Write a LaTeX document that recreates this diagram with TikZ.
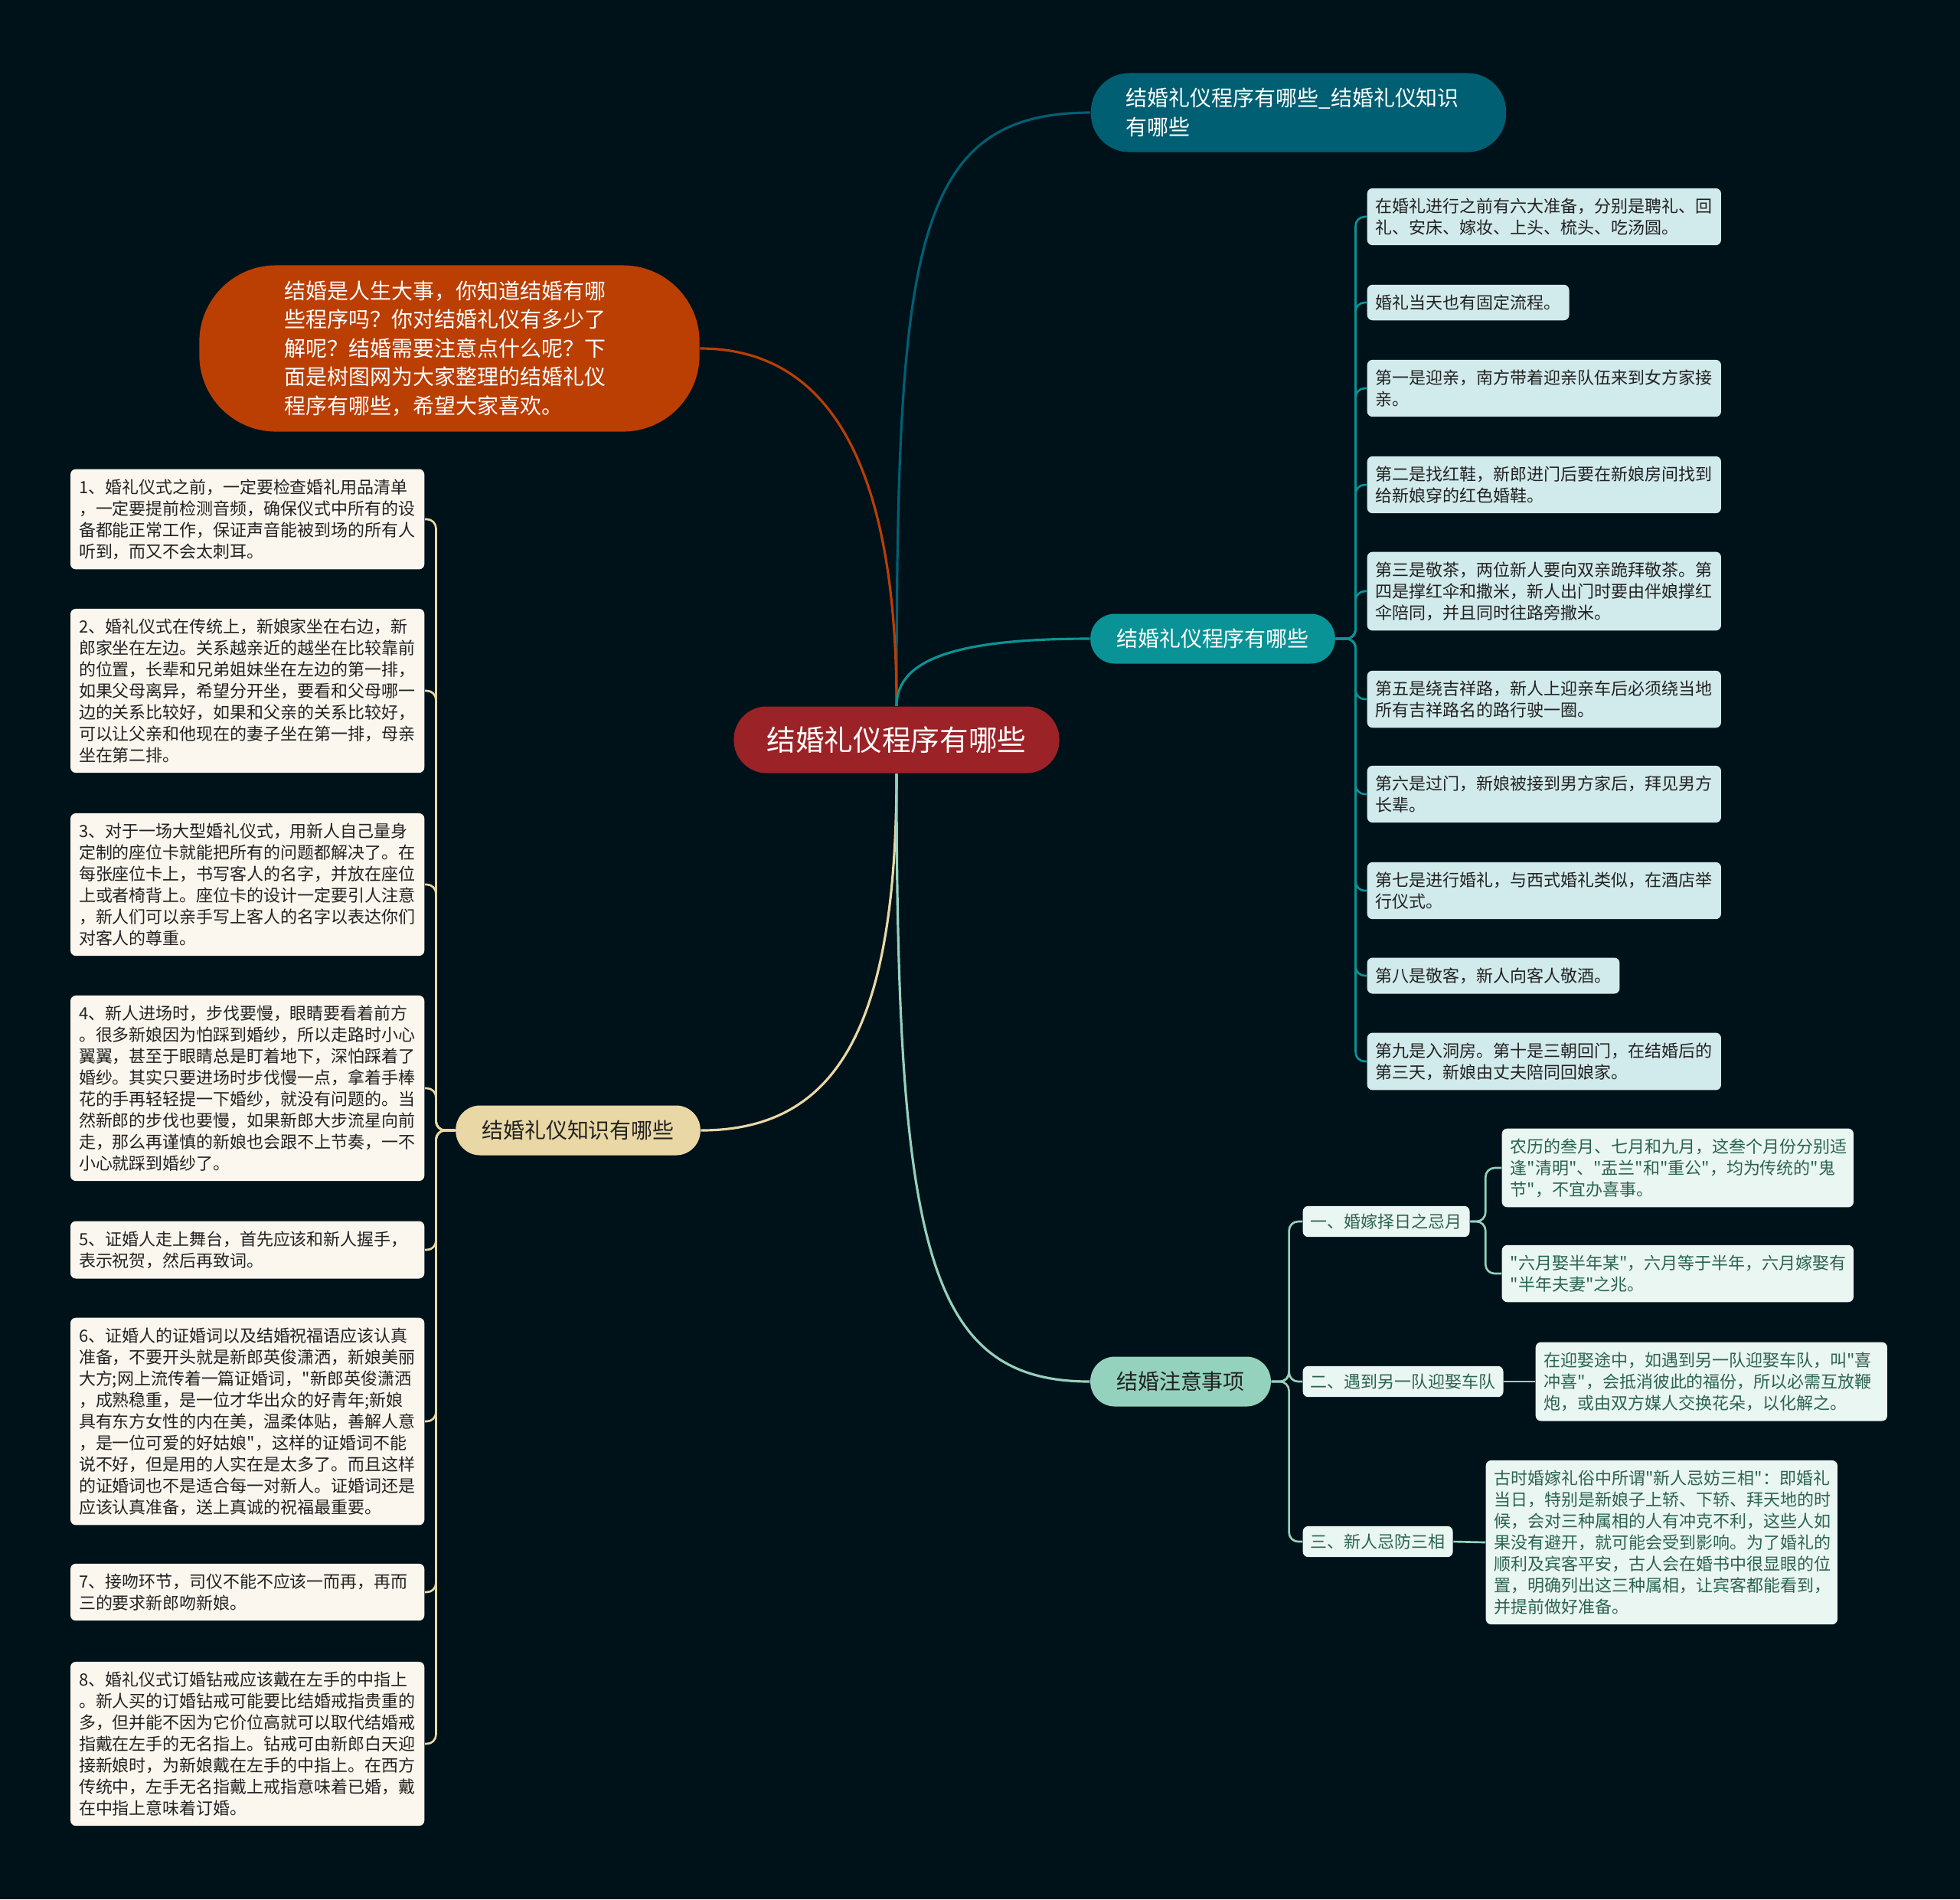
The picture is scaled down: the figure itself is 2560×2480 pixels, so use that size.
\documentclass[tikz,border=0pt]{standalone}
\usepackage{fontspec}
\setmainfont{Noto Sans CJK SC}[Ligatures=TeXOff]
\definecolor{Night}{HTML}{001219}
\definecolor{DeepTeal}{HTML}{005F73}
\definecolor{Teal}{HTML}{0A9396}
\definecolor{Mint}{HTML}{94D2BD}
\definecolor{Sand}{HTML}{E9D8A6}
\definecolor{Rust}{HTML}{BB3E03}
\definecolor{Wine}{HTML}{9B2226}
\definecolor{TealTint}{HTML}{D1EAEB}
\definecolor{SandTint}{HTML}{FBF7EE}
\definecolor{MintTint}{HTML}{EAF6F2}
\definecolor{Ink}{HTML}{222222}
\definecolor{Pine}{HTML}{2B6450}
\newcommand\leafcn{\fontsize{6.25}{7.95}\selectfont}
\newcommand\topiccn{\fontsize{7.95}{10.7}\selectfont}
\newcommand\rootcn{\fontsize{10.7}{13}\selectfont}

\begin{document}
\begin{tikzpicture}[x=0.01cm,y=-0.01cm,
    leaf/.style={align=left,font=\leafcn,text=Ink,inner xsep=0.11cm,inner ysep=0.13cm,rounded corners=0.07cm},
    rleaf/.style={leaf,fill=TealTint,anchor=west},
    lleaf/.style={leaf,fill=SandTint,anchor=east,text width=4.4cm},
    nleaf/.style={leaf,fill=MintTint,text=Pine,anchor=west,text width=4.37cm},
    sub/.style={leaf,fill=MintTint,text=Pine,anchor=west,inner xsep=0.1cm,inner ysep=0.1cm},
    wide/.style={text width=4.4cm},
    topic/.style={font=\topiccn,inner xsep=0.34cm,inner ysep=0pt,minimum height=0.65cm,rounded corners=0.32cm},
    link/.style={line width=0.9pt},
    spine/.style={line width=0.75pt,rounded corners=0.12cm}]
  \fill[Night] (0,0) rectangle (2560,2480);

  \node[fill=Wine,text=white,font=\rootcn,minimum width=4.25cm,minimum height=0.87cm,rounded corners=0.43cm] (root) at (1171,966) {结婚礼仪程序有哪些};
  \node[fill=DeepTeal,text=white,font=\topiccn,align=left,text width=4.5cm,inner xsep=0.46cm,minimum height=1.03cm,rounded corners=0.5cm] (title) at (1696,147) {结婚礼仪程序有哪些\_结婚礼仪知识\\有哪些};
  \node[fill=Rust,text=white,font=\topiccn,align=left,text width=4.3cm,minimum width=6.53cm,minimum height=2.17cm,rounded corners=1cm] (intro) at (587,455) {结婚是人生大事，你知道结婚有哪\\些程序吗？你对结婚礼仪有多少了\\解呢？结婚需要注意点什么呢？下\\面是树图网为大家整理的结婚礼仪\\程序有哪些，希望大家喜欢。};
  \node[topic,fill=Teal,text=white] (steps) at (1584,834) {结婚礼仪程序有哪些};
  \node[topic,fill=Sand,text=Ink] (tips) at (755,1476) {结婚礼仪知识有哪些};
  \node[topic,fill=Mint,text=Ink] (notes) at (1542,1804) {结婚注意事项};

  \node[rleaf,wide] (s1) at (1785,283) {在婚礼进行之前有六大准备，分别是聘礼、回\\礼、安床、嫁妆、上头、梳头、吃汤圆。};
  \node[rleaf] (s2) at (1785,395) {婚礼当天也有固定流程。};
  \node[rleaf,wide] (s3) at (1785,507) {第一是迎亲，南方带着迎亲队伍来到女方家接\\亲。};
  \node[rleaf,wide] (s4) at (1785,633) {第二是找红鞋，新郎进门后要在新娘房间找到\\给新娘穿的红色婚鞋。};
  \node[rleaf,wide] (s5) at (1785,772) {第三是敬茶，两位新人要向双亲跪拜敬茶。第\\四是撑红伞和撒米，新人出门时要由伴娘撑红\\伞陪同，并且同时往路旁撒米。};
  \node[rleaf,wide] (s6) at (1785,913) {第五是绕吉祥路，新人上迎亲车后必须绕当地\\所有吉祥路名的路行驶一圈。};
  \node[rleaf,wide] (s7) at (1785,1037) {第六是过门，新娘被接到男方家后，拜见男方\\长辈。};
  \node[rleaf,wide] (s8) at (1785,1163) {第七是进行婚礼，与西式婚礼类似，在酒店举\\行仪式。};
  \node[rleaf] (s9) at (1785,1274) {第八是敬客，新人向客人敬酒。};
  \node[rleaf,wide] (s10) at (1785,1386) {第九是入洞房。第十是三朝回门，在结婚后的\\第三天，新娘由丈夫陪同回娘家。};

  \node[lleaf] (k1) at (555,678) {1、婚礼仪式之前，一定要检查婚礼用品清单\\，一定要提前检测音频，确保仪式中所有的设\\备都能正常工作，保证声音能被到场的所有人\\听到，而又不会太刺耳。};
  \node[lleaf] (k2) at (555,902) {2、婚礼仪式在传统上，新娘家坐在右边，新\\郎家坐在左边。关系越亲近的越坐在比较靠前\\的位置，长辈和兄弟姐妹坐在左边的第一排，\\如果父母离异，希望分开坐，要看和父母哪一\\边的关系比较好，如果和父亲的关系比较好，\\可以让父亲和他现在的妻子坐在第一排，母亲\\坐在第二排。};
  \node[lleaf] (k3) at (555,1155) {3、对于一场大型婚礼仪式，用新人自己量身\\定制的座位卡就能把所有的问题都解决了。在\\每张座位卡上，书写客人的名字，并放在座位\\上或者椅背上。座位卡的设计一定要引人注意\\，新人们可以亲手写上客人的名字以表达你们\\对客人的尊重。};
  \node[lleaf] (k4) at (555,1421) {4、新人进场时，步伐要慢，眼睛要看着前方\\。很多新娘因为怕踩到婚纱，所以走路时小心\\翼翼，甚至于眼睛总是盯着地下，深怕踩着了\\婚纱。其实只要进场时步伐慢一点，拿着手棒\\花的手再轻轻提一下婚纱，就没有问题的。当\\然新郎的步伐也要慢，如果新郎大步流星向前\\走，那么再谨慎的新娘也会跟不上节奏，一不\\小心就踩到婚纱了。};
  \node[lleaf] (k5) at (555,1632) {5、证婚人走上舞台，首先应该和新人握手，\\表示祝贺，然后再致词。};
  \node[lleaf] (k6) at (555,1856) {6、证婚人的证婚词以及结婚祝福语应该认真\\准备，不要开头就是新郎英俊潇洒，新娘美丽\\大方;网上流传着一篇证婚词，"新郎英俊潇洒\\，成熟稳重，是一位才华出众的好青年;新娘\\具有东方女性的内在美，温柔体贴，善解人意\\，是一位可爱的好姑娘"，这样的证婚词不能\\说不好，但是用的人实在是太多了。而且这样\\的证婚词也不是适合每一对新人。证婚词还是\\应该认真准备，送上真诚的祝福最重要。};
  \node[lleaf] (k7) at (555,2079) {7、接吻环节，司仪不能不应该一而再，再而\\三的要求新郎吻新娘。};
  \node[lleaf] (k8) at (555,2277) {8、婚礼仪式订婚钻戒应该戴在左手的中指上\\。新人买的订婚钻戒可能要比结婚戒指贵重的\\多，但并能不因为它价位高就可以取代结婚戒\\指戴在左手的无名指上。钻戒可由新郎白天迎\\接新娘时，为新娘戴在左手的中指上。在西方\\传统中，左手无名指戴上戒指意味着已婚，戴\\在中指上意味着订婚。};

  \node[sub] (n1) at (1701,1595) {一、婚嫁择日之忌月};
  \node[sub] (n2) at (1701,1804) {二、遇到另一队迎娶车队};
  \node[sub] (n3) at (1701,2013) {三、新人忌防三相};
  \node[nleaf] (n1a) at (1961,1525) {农历的叁月、七月和九月，这叁个月份分别适\\逢"清明"、"盂兰"和"重公"，均为传统的"鬼\\节"，不宜办喜事。};
  \node[nleaf] (n1b) at (1961,1663) {"六月娶半年某"，六月等于半年，六月嫁娶有\\"半年夫妻"之兆。};
  \node[nleaf] (n2a) at (2005,1804) {在迎娶途中，如遇到另一队迎娶车队，叫"喜\\冲喜"，会抵消彼此的福份，所以必需互放鞭\\炮，或由双方媒人交换花朵，以化解之。};
  \node[nleaf] (n3a) at (1940,2014) {古时婚嫁礼俗中所谓"新人忌妨三相"：即婚礼\\当日，特别是新娘子上轿、下轿、拜天地的时\\候，会对三种属相的人有冲克不利，这些人如\\果没有避开，就可能会受到影响。为了婚礼的\\顺利及宾客平安，古人会在婚书中很显眼的位\\置，明确列出这三种属相，让宾客都能看到，\\并提前做好准备。};

  \draw[link,DeepTeal] (root.north) .. controls +(0,-596) and +(-233,0) .. (title.west);
  \draw[link,Rust] (intro.east) .. controls +(147,0) and +(0,-351) .. (root.north);
  \draw[link,Teal] (root.north) .. controls +(0,-65) and +(-163,0) .. (steps.west);
  \draw[link,Sand] (tips.east) .. controls +(180,0) and +(0,327) .. (root.south);
  \draw[link,Mint] (root.south) .. controls +(0,620) and +(-212,0) .. (notes.west);

  \foreach \i in {1,...,10}
    \draw[spine,Teal] (steps.east) -- ++(26,0) |- (s\i.west);
  \foreach \i in {1,...,8}
    \draw[spine,Sand] (tips.west) -- ++(-25,0) |- (k\i.east);
  \foreach \n in {n1,n2,n3}
    \draw[spine,Mint] (notes.east) -- ++(23,0) |- (\n.west);
  \foreach \n in {n1a,n1b}
    \draw[spine,Mint] (n1.east) -- ++(20,0) |- (\n.west);
  \draw[spine,Mint] (n2.east) -- (n2a.west);
  \draw[spine,Mint] (n3.east) -- (n3a.west);
\end{tikzpicture}
\end{document}
